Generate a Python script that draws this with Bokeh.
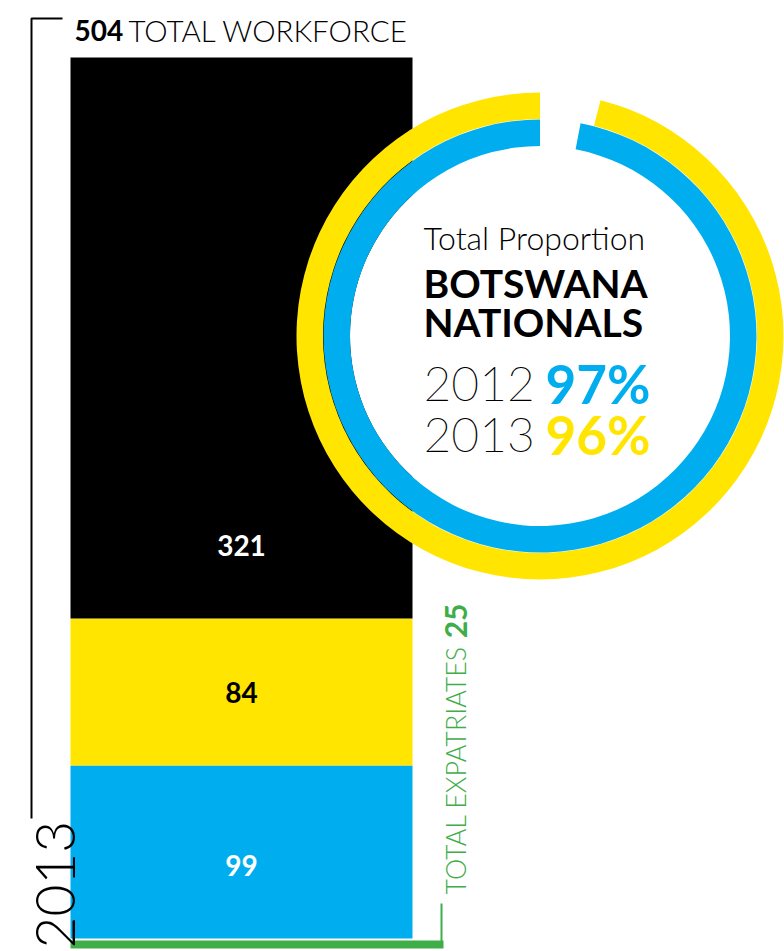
from math import pi
from bokeh.plotting import figure
from bokeh.models import Range1d, ColumnDataSource
from bokeh.core.properties import value
from bokeh.embed import file_html
from bokeh.resources import INLINE

# ---------------- data ----------------
year_label = "2013"
total_workforce = 504
segment_values = [99, 84, 321]          # stacked bottom -> top
segment_label_colors = ["white", "black", "white"]
total_expatriates = 25
ring_years = ["2012", "2013"]
national_share = [97, 96]               # % Botswana nationals

# ---------------- style ----------------
BLUE = "#00AEEF"
YELLOW = "#FFE500"
BLACK = "#000000"
GREEN = "#3FAE49"
segment_colors = [BLUE, YELLOW, BLACK]
ring_colors = [BLUE, YELLOW]
LIGHT = value("Lato Light")
THIN = value("Lato Thin")
BOLD = value("Lato")

W, H = 784, 951
p = figure(width=W, height=H, output_backend="svg", toolbar_location=None,
           x_range=Range1d(0, W), y_range=Range1d(-H, 0),
           x_axis_location=None, y_axis_location=None, min_border=0)
p.grid.visible = False
p.outline_line_color = None
p.background_fill_color = "white"
p.border_fill_color = "white"

# bar scale: 0 at the bar base, total at the bar top
BAR_TOP, BAR_BOTTOM = 57, 938
k = total_workforce / (BAR_BOTTOM - BAR_TOP)
p.extra_y_ranges = {"count": Range1d((BAR_BOTTOM - H) * k, BAR_BOTTOM * k)}

bottoms, tops = [], []
acc = 0
for v in segment_values:
    bottoms.append(acc)
    acc += v
    tops.append(acc)
label_y = [b + min(v / 2, 42) for b, v in zip(bottoms, segment_values)]
src = ColumnDataSource(dict(bottom=bottoms, top=tops, color=segment_colors,
                            label=[str(v) for v in segment_values],
                            label_y=label_y, label_color=segment_label_colors))
BAR_CX, BAR_W = 241, 342
p.vbar(x=BAR_CX, width=BAR_W, bottom="bottom", top="top", fill_color="color",
       line_color=None, source=src, y_range_name="count")
p.text(x=BAR_CX, y="label_y", text="label", source=src, y_range_name="count",
       text_align="center", text_baseline="middle", text_font=BOLD,
       text_font_style="bold", text_font_size="28px", text_color="label_color")

# green base line + expatriates bracket
p.quad(left=70, right=443, bottom=-948, top=-940, fill_color=GREEN, line_color=None)
p.line(x=[441, 441], y=[-903, -941], line_color=GREEN, line_width=2)

# left bracket
p.line(x=[62, 31, 31], y=[-18, -18, -818], line_color=BLACK, line_width=2)

# title
p.text(x=[74], y=[-30], text=[str(total_workforce)], text_font=BOLD, text_font_style="bold",
       text_font_size="28px", text_color=BLACK, text_baseline="alphabetic")
p.text(x=[128], y=[-30], text=["TOTAL WORKFORCE"], text_font=LIGHT,
       text_font_size="29.5px", text_color=BLACK, text_baseline="alphabetic")

# year vertical
p.text(x=[55], y=[-948], text=[year_label], angle=pi / 2, text_font=LIGHT,
       text_font_size="55px", text_color=BLACK, text_align="left",
       text_baseline="alphabetic")

# expatriates vertical text
p.text(x=[455], y=[-894], text=["TOTAL EXPATRIATES"], angle=pi / 2, text_font=LIGHT,
       text_font_size="26.8px", text_color=GREEN, text_align="left",
       text_baseline="alphabetic")
p.text(x=[455], y=[-603], text=[str(total_expatriates)], angle=pi / 2, text_font=BOLD,
       text_font_style="bold", text_font_size="30px", text_color=GREEN,
       text_align="right", text_baseline="alphabetic")

# rings
CX, CY = 539.5, -335.5
p.circle(x=[CX], y=[CY], radius=190, fill_color="white", line_color=None)
p.annular_wedge(x=CX, y=CY, inner_radius=217, outer_radius=243.5,
                start_angle=pi / 2, end_angle=pi / 2 + 2 * pi * national_share[1] / 100,
                fill_color=ring_colors[1], line_color=None)
p.annular_wedge(x=CX, y=CY, inner_radius=190, outer_radius=216.5,
                start_angle=pi / 2, end_angle=pi / 2 + 2 * pi * national_share[0] / 100,
                fill_color=ring_colors[0], line_color=None)

TX = 423
p.text(x=[TX], y=[-237], text=["Total Proportion"], text_font=LIGHT,
       text_font_size="32px", text_color=BLACK, text_baseline="alphabetic")
p.text(x=[TX, TX], y=[-282, -321], text=["BOTSWANA", "NATIONALS"], text_font=BOLD,
       text_font_style="bold", text_font_size="39px", text_color=BLACK,
       text_baseline="alphabetic")
p.text(x=[TX, TX], y=[-383, -434], text=ring_years, text_font=THIN,
       text_font_size="48px", text_color=BLACK, text_baseline="alphabetic")
p.text(x=[545, 545], y=[-383, -434], text=[f"{v}%" for v in national_share],
       text_font=BOLD, text_font_style="bold", text_font_size="53px",
       text_color=ring_colors, text_baseline="alphabetic")

open("out.html", "w").write(file_html(p, INLINE))
